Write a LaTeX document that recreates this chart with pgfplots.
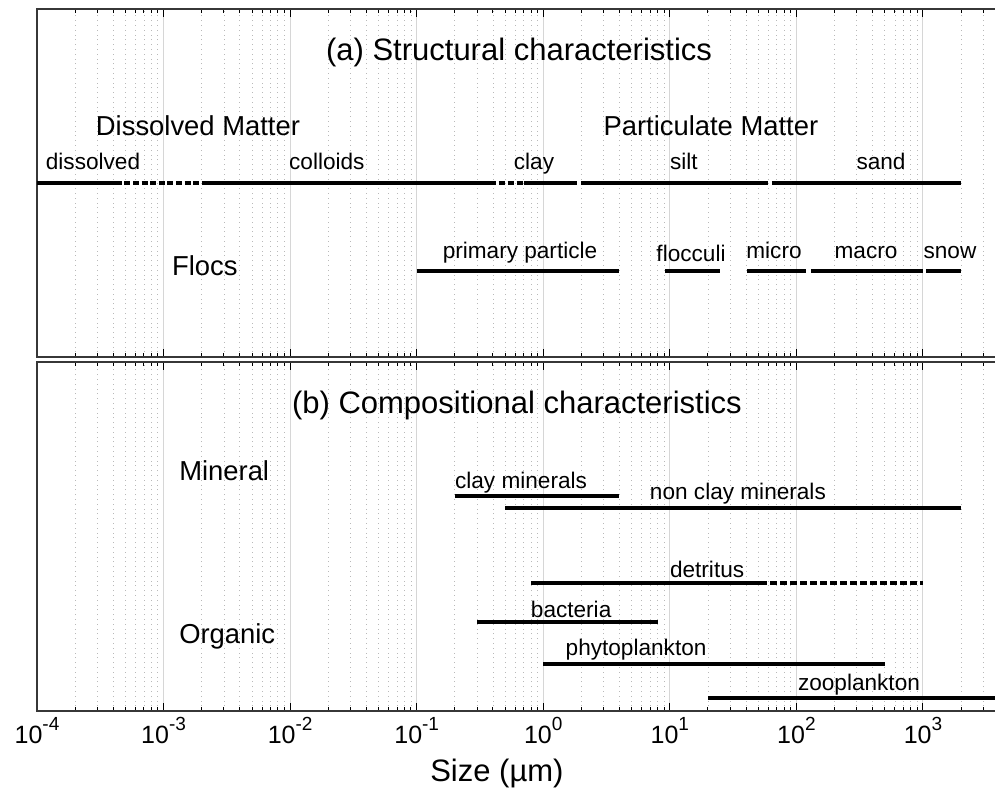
\documentclass[border=0pt]{standalone}
\usepackage{pgfplots}
\pgfplotsset{compat=1.18}
\usepackage{fontspec}
\setmainfont{Liberation Sans}
\usetikzlibrary{calc}

\definecolor{gridmajor}{RGB}{214,214,214}
\definecolor{gridminor}{RGB}{185,185,185}
\definecolor{framecol}{RGB}{55,55,55}

\newcommand{\titlefont}{\fontsize{15.5}{18}\selectfont}
\newcommand{\groupfont}{\fontsize{13.7}{16}\selectfont}
\newcommand{\smallfont}{\fontsize{11.3}{13}\selectfont}
% power-of-ten tick label set in the text font
\newcommand{\tenpow}[1]{10\raisebox{0.5em}{\fontsize{9.5}{11}\selectfont #1}}

\pgfplotsset{
  /pgfplots/sizepanel/.style={
    xmin=1e-4, xmax=4000,
    scale only axis, width=481.1pt,
    ymin=0, ytick=\empty,
    xtick={1e-4,1e-3,1e-2,1e-1,1,10,100,1000},
    minor xtick={2e-4,3e-4,4e-4,5e-4,6e-4,7e-4,8e-4,9e-4,
                 2e-3,3e-3,4e-3,5e-3,6e-3,7e-3,8e-3,9e-3,
                 2e-2,3e-2,4e-2,5e-2,6e-2,7e-2,8e-2,9e-2,
                 0.2,0.3,0.4,0.5,0.6,0.7,0.8,0.9,
                 2,3,4,5,6,7,8,9,
                 20,30,40,50,60,70,80,90,
                 200,300,400,500,600,700,800,900,
                 2000,3000},
    tick align=inside, xtick pos=both,
    major tick length=4pt, minor tick length=2pt,
    every tick/.style={black, line width=0.5pt},
    grid=both,
    major grid style={gridmajor, line width=0.5pt},
    minor grid style={gridminor, line width=0.4pt, dash pattern=on 0.4pt off 2pt},
    axis line style={framecol, line width=0.6pt},
  },
  /pgfplots/seg/.style={black, line width=2pt, line cap=butt, no marks},
}

\begin{document}
\begin{tikzpicture}

% (a) structural size classes
\begin{axis}[xmode=log, sizepanel, name=top, height=174pt, ymax=348,
  xticklabels={,,,,,,,}]
  % dissolved / colloid / particulate size classes
  \addplot[seg] coordinates {(1e-4,173.5) (4.2e-4,173.5)};
  \addplot[seg, dash pattern=on 3pt off 1.3pt] coordinates {(4.2e-4,173.5) (2e-3,173.5)};
  \addplot[seg] coordinates {(2e-3,173.5) (0.42,173.5)};
  \addplot[seg, dash pattern=on 3pt off 1.5pt, dash phase=3pt] coordinates {(0.42,173.5) (0.7,173.5)};
  \addplot[seg] coordinates {(0.7,173.5) (1.85,173.5)};
  \addplot[seg] coordinates {(2,173.5) (60,173.5)};
  \addplot[seg] coordinates {(64,173.5) (2000,173.5)};
  % flocs
  \addplot[seg] coordinates {(0.1,85.5) (4,85.5)};
  \addplot[seg] coordinates {(9.2,85.5) (25,85.5)};
  \addplot[seg] coordinates {(41,85.5) (118,85.5)};
  \addplot[seg] coordinates {(130,85.5) (1000,85.5)};
  \addplot[seg] coordinates {(1060,85.5) (2000,85.5)};

  \node[anchor=base, font=\titlefont] at (axis cs:0.643,296) {(a) Structural characteristics};
  \node[anchor=base, font=\groupfont] at (axis cs:1.87e-3,221) {Dissolved Matter};
  \node[anchor=base, font=\groupfont] at (axis cs:21.1,221) {Particulate Matter};
  \node[anchor=base, font=\smallfont] at (axis cs:2.77e-4,187) {dissolved};
  \node[anchor=base, font=\smallfont] at (axis cs:0.0195,187) {colloids};
  \node[anchor=base, font=\smallfont] at (axis cs:0.845,187) {clay};
  \node[anchor=base, font=\smallfont] at (axis cs:12.9,187) {silt};
  \node[anchor=base, font=\smallfont] at (axis cs:466,187) {sand};
  \node[anchor=base, font=\groupfont] at (axis cs:2.12e-3,81) {Flocs};
  \node[anchor=base, font=\smallfont] at (axis cs:0.655,98) {primary particle};
  \node[anchor=base, font=\smallfont] at (axis cs:14.7,95) {flocculi};
  \node[anchor=base, font=\smallfont] at (axis cs:66.5,98) {micro};
  \node[anchor=base, font=\smallfont] at (axis cs:355,98) {macro};
  \node[anchor=base, font=\smallfont] at (axis cs:1634,98) {snow};
\end{axis}

% (b) compositional size ranges
\begin{axis}[xmode=log, sizepanel, name=bot, at={(top.south west)}, anchor=north west,
  yshift=-2.5pt, height=174.5pt, ymax=349,
  xticklabels={\tenpow{-4},\tenpow{-3},\tenpow{-2},\tenpow{-1},
    \tenpow{0},\tenpow{1},\tenpow{2},\tenpow{3}},
  xticklabel style={font=\fontsize{12.5}{14}\selectfont, anchor=base, yshift=-16pt},
  xlabel={Size (µm)},
  xlabel style={font=\titlefont, at={(axis description cs:0.478,0)}, anchor=base, yshift=-35pt}]
  % mineral
  \addplot[seg] coordinates {(0.2,215) (4,215)};
  \addplot[seg] coordinates {(0.5,203) (2000,203)};
  % organic
  \addplot[seg] coordinates {(0.8,128) (52,128)};
  \addplot[seg, dash pattern=on 3.5pt off 1.5pt] coordinates {(52,128) (1000,128)};
  \addplot[seg] coordinates {(0.3,89) (8,89)};
  \addplot[seg] coordinates {(1,47) (500,47)};
  \addplot[seg] coordinates {(20,13) (4000,13)};

  \node[anchor=base, font=\titlefont] at (axis cs:0.619,298) {(b) Compositional characteristics};
  \node[anchor=base west, font=\groupfont] at (axis cs:1.17e-3,231) {Mineral};
  \node[anchor=base west, font=\groupfont] at (axis cs:1.17e-3,68) {Organic};
  \node[anchor=base, font=\smallfont] at (axis cs:0.667,223) {clay minerals};
  \node[anchor=base, font=\smallfont] at (axis cs:34.5,212) {non clay minerals};
  \node[anchor=base, font=\smallfont] at (axis cs:19.7,134) {detritus};
  \node[anchor=base, font=\smallfont] at (axis cs:1.66,94) {bacteria};
  \node[anchor=base, font=\smallfont] at (axis cs:5.41,56) {phytoplankton};
  \node[anchor=base, font=\smallfont] at (axis cs:312,21) {zooplankton};
\end{axis}

\pgfresetboundingbox
\useasboundingbox ($(top.north west)+(-18.5pt,4.5pt)$) rectangle ($(bot.south west)+(479pt,-40pt)$);
\end{tikzpicture}
\end{document}
